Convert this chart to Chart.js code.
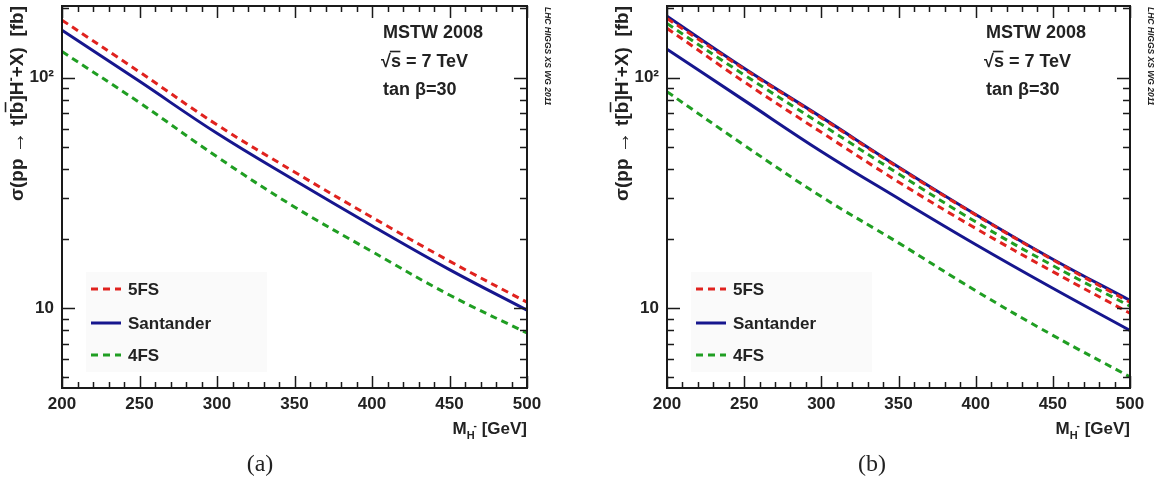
<!DOCTYPE html>
<html>
<head>
<meta charset="utf-8">
<script src="https://cdn.jsdelivr.net/npm/chart.js@4.4.1/dist/chart.umd.min.js"></script>
<style>
    html, body { margin: 0; padding: 0; background: #fff; }
    body { width: 1159px; height: 486px; position: relative; overflow: hidden; }
    .panel { position: absolute; top: 0; height: 486px; }
    #panelA { left: 0; width: 580px; }
    #panelB { left: 605px; width: 554px; }
</style>
</head>
<body>
<div class="panel" id="panelA"><canvas id="chartA" width="580" height="486"></canvas></div>
<div class="panel" id="panelB"><canvas id="chartB" width="554" height="486"></canvas></div>
<script>
(function () {
    'use strict';

    var FONT = '"Liberation Sans", Arial, Helvetica, sans-serif';
    var SERIF = '"Liberation Serif", "Times New Roman", serif';
    var INK = '#222';

    // charged Higgs mass [GeV]
    var massValues = [200, 250, 300, 350, 400, 450, 500];
    var massTicks = [200, 250, 300, 350, 400, 450, 500];
    var sigmaTicks = [10, 100];
    var sigmaMinorTicks = [5, 6, 7, 8, 9, 20, 30, 40, 50, 60, 70, 80, 90, 200];
    var sigmaMin = 4.5;
    var sigmaMax = 205;

    // (a) central values, sigma in fb
    var fiveFlavourA = [178, 106, 62.5, 39, 24.8, 16.0, 10.6];
    var santanderA = [161, 96.5, 57.4, 35.9, 22.8, 14.7, 9.8];
    var fourFlavourA = [130, 78, 45.4, 27.5, 17.6, 11.4, 7.8];

    // (b) upper / lower edges of the uncertainty bands
    var fiveFlavourUpB = [181, 109, 67, 40.7, 25.4, 16.2, 10.6];
    var santanderUpB = [185, 110, 67.5, 41, 25.5, 16.3, 10.8];
    var fourFlavourUpB = [172, 103, 62.8, 38.3, 23.7, 15.3, 10.2];
    var fiveFlavourDownB = [164, 96, 58, 35.3, 22.2, 14.4, 9.5];
    var santanderDownB = [133, 79.8, 47.9, 29.9, 18.9, 12.2, 8.0];
    var fourFlavourDownB = [87, 51, 30.5, 19.2, 11.9, 7.62, 5.03];

    var RED = '#e0221e';
    var BLUE = '#16168e';
    var GREEN = '#1f9e22';

    var legendItems = [
        {label: '5FS', color: RED, dashed: true},
        {label: 'Santander', color: BLUE, dashed: false},
        {label: '4FS', color: GREEN, dashed: true}
    ];

    function points(values) {
        return massValues.map(function (m, i) {
            return {x: m, y: values[i]};
        });
    }

    function series(label, values, color, dashed) {
        return {
            label: label,
            data: points(values),
            borderColor: color,
            backgroundColor: color,
            borderWidth: 3,
            borderDash: dashed ? [7, 5] : [],
            pointRadius: 0,
            fill: false,
            tension: 0.4
        };
    }

    // draws a run of text pieces (for sub/superscripts and bars), returns width
    function drawParts(ctx, parts, x, y, measureOnly) {
        var cx = x;
        parts.forEach(function (p) {
            ctx.font = (p.weight || 'bold') + ' ' + p.size + 'px ' + FONT;
            cx += (p.dx || 0);
            var w = ctx.measureText(p.text).width;
            if (!measureOnly) {
                ctx.fillText(p.text, cx, y + (p.dy || 0));
                if (p.bar) {
                    ctx.lineWidth = 1.6;
                    ctx.beginPath();
                    ctx.moveTo(cx + (p.barFrom || 1), y + (p.dy || 0) - p.size * p.bar);
                    ctx.lineTo(cx + w - 0.5, y + (p.dy || 0) - p.size * p.bar);
                    ctx.stroke();
                }
            }
            cx += w;
        });
        return cx - x;
    }

    var yTitleParts = [
        {text: 'σ(pp ', size: 19},
        {text: '→', size: 22, weight: 'normal', dy: 1},
        {text: ' t[', size: 19},
        {text: 'b', size: 19, bar: 0.92},
        {text: ']H', size: 19},
        {text: '-', size: 13, dy: -8},
        {text: '+X)  [fb]', size: 19}
    ];

    var xTitleParts = [
        {text: 'M', size: 17},
        {text: 'H', size: 11, dy: 5},
        {text: '-', size: 10, dy: -5, dx: -1},
        {text: ' [GeV]', size: 17}
    ];

    var sqrtParts = [
        {text: '√', size: 18},
        {text: 's', size: 18, bar: 0.86, barFrom: -1},
        {text: ' = 7 TeV', size: 18}
    ];

    function framePlugin(cfg) {
        return {
            id: 'rootFrame' + cfg.caption.replace(/\W/g, ''),
            afterDraw: function (chart) {
                var ctx = chart.ctx;
                var area = chart.chartArea;
                var xs = chart.scales.x;
                var ys = chart.scales.y;
                ctx.save();
                ctx.setLineDash([]);
                ctx.strokeStyle = '#1a1a1a';
                ctx.fillStyle = INK;

                // inward ticks on all four sides
                ctx.lineWidth = 1.5;
                ctx.beginPath();
                for (var m = 200; m <= 500; m += 10) {
                    var px = Math.round(xs.getPixelForValue(m)) + 0.5;
                    var len = (m % 50 === 0) ? 12 : 6;
                    ctx.moveTo(px, area.bottom);
                    ctx.lineTo(px, area.bottom - len);
                    ctx.moveTo(px, area.top);
                    ctx.lineTo(px, area.top + len);
                }
                sigmaTicks.concat(sigmaMinorTicks).forEach(function (v) {
                    var py = Math.round(ys.getPixelForValue(v)) + 0.5;
                    var l = sigmaTicks.indexOf(v) >= 0 ? 13 : 7;
                    ctx.moveTo(area.left, py);
                    ctx.lineTo(area.left + l, py);
                    ctx.moveTo(area.right, py);
                    ctx.lineTo(area.right - l, py);
                });
                ctx.stroke();

                ctx.lineWidth = 2;
                ctx.strokeRect(area.left, area.top, area.right - area.left, area.bottom - area.top);

                // legend
                ctx.fillStyle = '#fafafa';
                ctx.fillRect(area.left + 24, 272, 181, 100);
                var rows = [289, 323, 355];
                legendItems.forEach(function (item, i) {
                    ctx.strokeStyle = item.color;
                    ctx.lineWidth = 3;
                    ctx.setLineDash(item.dashed ? [7, 5] : []);
                    ctx.beginPath();
                    ctx.moveTo(area.left + 29, rows[i]);
                    ctx.lineTo(area.left + 59, rows[i]);
                    ctx.stroke();
                    ctx.setLineDash([]);
                    ctx.fillStyle = INK;
                    ctx.font = 'bold 17px ' + FONT;
                    ctx.textBaseline = 'middle';
                    ctx.textAlign = 'left';
                    ctx.fillText(item.label, area.left + 66, rows[i] + 1);
                });

                // annotations
                ctx.fillStyle = INK;
                ctx.strokeStyle = INK;
                ctx.textBaseline = 'alphabetic';
                ctx.textAlign = 'left';
                var tx = area.right - 144;
                ctx.font = 'bold 18px ' + FONT;
                ctx.fillText('MSTW 2008', tx, 38);
                drawParts(ctx, sqrtParts, tx - 2, 67);
                ctx.font = 'bold 18px ' + FONT;
                ctx.fillText('tan β=30', tx, 95);

                // x title, right aligned
                var xw = drawParts(ctx, xTitleParts, 0, 0, true);
                drawParts(ctx, xTitleParts, area.right - xw, 434);

                // y title, rotated, ending at the top of the frame
                var yw = drawParts(ctx, yTitleParts, 0, 0, true);
                ctx.save();
                ctx.translate(23, area.top + yw);
                ctx.rotate(-Math.PI / 2);
                drawParts(ctx, yTitleParts, 0, 0);
                ctx.restore();

                // working group stamp
                ctx.save();
                ctx.translate(area.right + 20, area.top + 1);
                ctx.rotate(Math.PI / 2);
                ctx.font = 'italic bold 8.5px ' + FONT;
                ctx.textBaseline = 'middle';
                ctx.fillText('LHC HIGGS XS WG 2011', 0, 0);
                ctx.restore();

                // caption
                ctx.font = '24px ' + SERIF;
                ctx.textAlign = 'center';
                ctx.textBaseline = 'middle';
                ctx.fillText(cfg.caption, cfg.captionX, 465);
                ctx.restore();
            }
        };
    }

    function makeChart(canvasId, datasets, cfg) {
        var ctx = document.getElementById(canvasId);
        return new Chart(ctx, {
            type: 'line',
            data: {datasets: datasets},
            options: {
                responsive: false,
                maintainAspectRatio: false,
                animation: false,
                layout: {padding: {left: 0, right: cfg.padRight, top: 6, bottom: 0}},
                plugins: {
                    legend: {display: false},
                    tooltip: {enabled: false},
                    title: {display: false}
                },
                scales: {
                    x: {
                        type: 'linear',
                        min: 200,
                        max: 500,
                        afterBuildTicks: function (scale) {
                            scale.ticks = massTicks.map(function (v) { return {value: v}; });
                        },
                        afterFit: function (scale) {
                            scale.height = 98;
                            scale.paddingLeft = 0;
                            scale.paddingRight = 0;
                        },
                        grid: {display: false, drawTicks: false},
                        border: {display: false},
                        ticks: {
                            color: INK,
                            font: {family: FONT, size: 17, weight: 'bold'},
                            padding: 6,
                            maxRotation: 0,
                            autoSkip: false
                        }
                    },
                    y: {
                        type: 'logarithmic',
                        min: sigmaMin,
                        max: sigmaMax,
                        afterBuildTicks: function (scale) {
                            scale.ticks = sigmaTicks.map(function (v) { return {value: v}; });
                        },
                        afterFit: function (scale) {
                            scale.width = 62;
                            scale.paddingTop = 0;
                            scale.paddingBottom = 0;
                        },
                        grid: {display: false, drawTicks: false},
                        border: {display: false},
                        ticks: {
                            color: INK,
                            font: {family: FONT, size: 17, weight: 'bold'},
                            padding: 8,
                            autoSkip: false,
                            callback: function (v) {
                                return v === 100 ? '10²' : '10';
                            }
                        }
                    }
                }
            },
            plugins: [framePlugin(cfg)]
        });
    }

    //noinspection JSUnusedLocalSymbols
    var chartA = makeChart('chartA', [
        series('5FS', fiveFlavourA, RED, true),
        series('Santander', santanderA, BLUE, false),
        series('4FS', fourFlavourA, GREEN, true)
    ], {caption: '(a)', captionX: 260, padRight: 53});

    //noinspection JSUnusedLocalSymbols
    var chartB = makeChart('chartB', [
        series('5FS up', fiveFlavourUpB, RED, true),
        series('Santander up', santanderUpB, BLUE, false),
        series('4FS up', fourFlavourUpB, GREEN, true),
        series('5FS down', fiveFlavourDownB, RED, true),
        series('Santander down', santanderDownB, BLUE, false),
        series('4FS down', fourFlavourDownB, GREEN, true)
    ], {caption: '(b)', captionX: 267, padRight: 29});
})();
</script>
</body>
</html>
